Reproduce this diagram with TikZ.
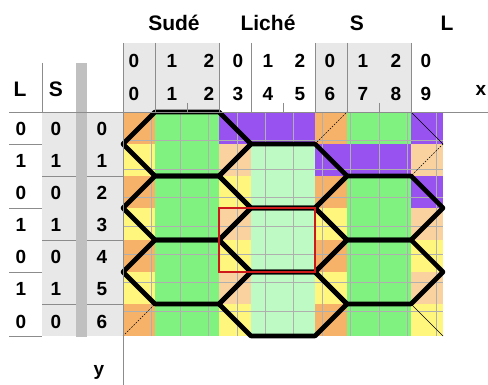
\documentclass[tikz,border=0pt]{standalone}
\usepackage{fontspec}
\setmainfont{Liberation Sans}
\definecolor{cO}{RGB}{246,178,104}
\definecolor{cH}{RGB}{249,210,160}
\definecolor{cY}{RGB}{255,246,125}
\definecolor{cG}{RGB}{128,242,128}
\definecolor{cL}{RGB}{190,250,196}
\definecolor{cP}{RGB}{152,82,240}
\definecolor{cHd}{RGB}{232,232,232}
\definecolor{cBar}{RGB}{192,192,192}
\definecolor{cLn}{RGB}{140,140,140}
\definecolor{cRed}{RGB}{204,26,26}
\tikzset{
  gridline/.style={draw=cLn!70, line width=0.6pt},
  tabline/.style={draw=cLn, line width=0.9pt},
  hexline/.style={line width=4.6pt, black, line join=round, line cap=round},
  thinline/.style={line width=0.7pt, black},
  thindash/.style={line width=0.7pt, black, dash pattern=on 1.5pt off 1.5pt},
  redbox/.style={draw=cRed, line width=2.6pt},
  num/.style={font=\fontsize{19}{19}\selectfont\bfseries, anchor=base, inner sep=0pt},
  lab/.style={font=\fontsize{21}{21}\selectfont\bfseries, anchor=base, inner sep=0pt}
}
\begin{document}
\begin{tikzpicture}[x=1pt,y=-1pt]
\useasboundingbox (0,0) rectangle (488,385);
\fill[white] (0,0) rectangle (488,385);
% header background
\fill[cHd] (123,43) rectangle (219,112);
\fill[cHd] (315,43) rectangle (411,112);
% left table background
\fill[cHd] (42,112) rectangle (76,336);
\fill[cBar] (76,63) rectangle (87,337);
\fill[cHd] (87,112) rectangle (123,336);
% grid
\begin{scope}[shift={(123,112)},x=32pt,y=-32pt]
  \foreach \row [count=\r from 0] in {
    {O,G,G,P,P,P,O,G,G,P},
    {Y,G,G,H,L,L,P,P,P,H},
    {O,G,G,Y,L,L,O,G,G,P},
    {Y,G,G,H,L,L,Y,G,G,H},
    {O,G,G,Y,L,L,O,G,G,Y},
    {Y,G,G,H,L,L,Y,G,G,H},
    {O,G,G,Y,L,L,O,G,G,Y}} {
    \foreach \c [count=\k from 0] in \row {
      \fill[c\c] (\k,\r) rectangle ++(1,1);
    }
  }
  \draw[gridline] (0,0) grid (10,7);
  % thin partial edges
  \draw[thindash] (6,1) -- (7,0);
  \draw[thinline] (9,0) -- (10,1);
  \draw[thindash] (10,1) -- (9,2);
  \draw[thinline] (9,6) -- (10,7);
  \draw[thindash] (0,7) -- (1,6);
  % hexagons
  \foreach \j in {0,2,4}
    \draw[hexline] (0,\j+1) -- (1,\j) -- (3,\j) -- (4,\j+1) -- (3,\j+2) -- (1,\j+2) -- cycle;
  \foreach \j in {1,3,5}
    \draw[hexline] (3,\j+1) -- (4,\j) -- (6,\j) -- (7,\j+1) -- (6,\j+2) -- (4,\j+2) -- cycle;
  \foreach \j in {2,4}
    \draw[hexline] (6,\j+1) -- (7,\j) -- (9,\j) -- (10,\j+1) -- (9,\j+2) -- (7,\j+2) -- cycle;
  \draw[redbox] (3,3) rectangle (6,5);
\end{scope}
% header lines
\draw[tabline] (123,43) -- (123,385);
\foreach \xx in {155,219,251,315,347,411} \draw[tabline] (\xx,43) -- (\xx,112);
\foreach \xx in {187,283,379} \draw[tabline] (\xx,103) -- (\xx,112);
\draw[tabline] (9,112) -- (488,112);
% left table lines
\draw[tabline] (42,63) -- (42,112);
\foreach \yy in {144,208,272,336} \draw[tabline] (9,\yy) -- (42,\yy);
\foreach \yy in {176,240,304} {
  \draw[tabline] (42,\yy) -- (76,\yy);
  \draw[tabline] (87,\yy) -- (123,\yy);
}
% header texts
\node[lab] (tSude) at (174,31) {Sudé};
\node[lab] (tLiche) at (268,31) {Liché};
\node[lab] (tS) at (357,31) {S};
\node[lab] (tL) at (447,31) {L};
\foreach \xx/\up/\lo [count=\i] in {134/0/0,172/1/1,209/2/2,238/0/3,268/1/4,300/2/5,330/0/6,363/1/7,396/2/8,426/0/9} {
  \node[num] (hu\i) at (\xx,68) {\up};
  \node[num] (hl\i) at (\xx,101) {\lo};
}
\node[num] (xlab) at (481,96) {x};
\node[lab] (colL) at (20,97) {L};
\node[lab] (colS) at (56,97) {S};
% left table values
\foreach \r/\v in {0/0,1/1,2/0,3/1,4/0,5/1,6/0} {
  \node[num] (vL\r) at (21,136+32*\r) {\v};
  \node[num] (vS\r) at (56,136+32*\r) {\v};
  \node[num] (vY\r) at (102,136+32*\r) {\r};
}
\node[num] (ylab) at (99,375) {y};
\end{tikzpicture}
\end{document}
